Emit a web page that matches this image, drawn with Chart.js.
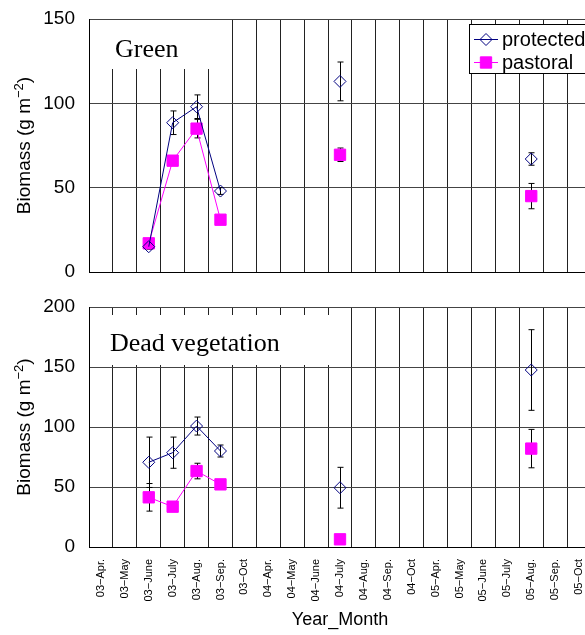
<!DOCTYPE html>
<html>
<head>
<meta charset="utf-8">
<script src="https://cdn.jsdelivr.net/npm/chart.js@4.4.0/dist/chart.umd.min.js"></script>
<style>
  body { margin: 0; width: 585px; height: 635px; overflow: hidden; background: #fff; }
  canvas { position: absolute; left: 0; }
  #green { top: 0; }
  #dead { top: 290px; }
</style>
</head>
<body>
<canvas id="green" width="600" height="290"></canvas>
<canvas id="dead" width="600" height="345"></canvas>
<script>
const months = [
  '03−Apr.', '03−May', '03−June', '03−July', '03−Aug.', '03−Sep.', '03−Oct',
  '04−Apr.', '04−May', '04−June', '04−July', '04−Aug.', '04−Sep.', '04−Oct',
  '05−Apr.', '05−May', '05−June', '05−July', '05−Aug.', '05−Sep.', '05−Oct'
];

// Green biomass
const greenProtected = [null, null, 15, 88.5, 98, 48, null, null, null, null, 113, null, null, null, null, null, null, null, 67, null, null];
const greenProtectedErr = [null, null, 1.5, 7, 7, 2, null, null, null, null, 11.5, null, null, null, null, null, null, null, 3.7, null, null];
const greenPastoral = [null, null, 17, 66, 85, 31, null, null, null, null, 69.5, null, null, null, null, null, null, null, 45, null, null];
const greenPastoralErr = [null, null, 1.5, 1.5, 5.5, 2, null, null, null, null, 4, null, null, null, null, null, null, null, 7.5, null, null];

// Dead vegetation
const deadProtected = [null, null, 70.6, 78.6, 100.8, 80, null, null, null, null, 49.4, null, null, null, null, null, null, null, 147.5, null, null];
const deadProtectedErr = [null, null, 21, 13, 7.5, 5, null, null, null, null, 17, null, null, null, null, null, null, null, 33.6, null, null];
const deadPastoral = [null, null, 41.4, 33.6, 63.3, 52.2, null, null, null, null, 6.4, null, null, null, null, null, null, null, 82, null, null];
const deadPastoralErr = [null, null, 11.5, 1.5, 6.5, 2, null, null, null, null, 1, null, null, null, null, null, null, null, 16, null, null];

const NAVY = '#000080';
const MAGENTA = '#ff00ff';
const SANS = '"Liberation Sans", Arial, sans-serif';

// white box with the panel name, covering the grid
const panelLabel = {
  id: 'panelLabel',
  beforeDatasetsDraw(chart, args, opts) {
    const ctx = chart.ctx;
    const [x0, y0, x1, y1] = opts.box;
    ctx.save();
    ctx.fillStyle = '#fff';
    ctx.fillRect(x0, y0, x1 - x0, y1 - y0);
    ctx.fillStyle = '#000';
    ctx.font = '26px "Liberation Serif", "Times New Roman", serif';
    ctx.textBaseline = 'alphabetic';
    ctx.fillText(opts.text, opts.x, opts.y);
    ctx.restore();
  }
};

// vertical error bars, drawn under the markers
const errorBars = {
  id: 'errorBars',
  beforeDatasetsDraw(chart) {
    const ctx = chart.ctx;
    const y = chart.scales.y;
    ctx.save();
    ctx.strokeStyle = '#000';
    ctx.lineWidth = 1;
    chart.data.datasets.forEach((ds, i) => {
      const meta = chart.getDatasetMeta(i);
      ds.data.forEach((v, j) => {
        const e = ds.errors[j];
        if (v == null || e == null) return;
        const x = Math.round(meta.data[j].x) + 0.5;
        const top = y.getPixelForValue(v + e);
        const bot = y.getPixelForValue(v - e);
        ctx.beginPath();
        ctx.moveTo(x, top); ctx.lineTo(x, bot);
        ctx.moveTo(x - 3, top); ctx.lineTo(x + 3, top);
        ctx.moveTo(x - 3, bot); ctx.lineTo(x + 3, bot);
        ctx.stroke();
      });
    });
    ctx.restore();
  }
};

// y title with a real superscript
const yTitle = {
  id: 'yTitle',
  afterDraw(chart) {
    const ctx = chart.ctx;
    const area = chart.chartArea;
    const big = '19px ' + SANS;
    const small = '13px ' + SANS;
    const parts = [['Biomass (g m', big, 0], ['−2', small, -7], [')', big, 0]];
    ctx.save();
    let total = 0;
    parts.forEach((p) => { ctx.font = p[1]; total += ctx.measureText(p[0]).width; });
    ctx.translate(25, (area.top + area.bottom) / 2);
    ctx.rotate(-Math.PI / 2);
    ctx.fillStyle = '#000';
    ctx.textBaseline = 'alphabetic';
    let x = -total / 2;
    parts.forEach((p) => {
      ctx.font = p[1];
      ctx.fillText(p[0], x, 5 + p[2]);
      x += ctx.measureText(p[0]).width;
    });
    ctx.restore();
  }
};

// boxed legend at the top right of the green panel
const boxLegend = {
  id: 'boxLegend',
  afterDraw(chart, args, opts) {
    if (!opts.show) return;
    const ctx = chart.ctx;
    ctx.save();
    ctx.fillStyle = '#fff';
    ctx.strokeStyle = '#000';
    ctx.lineWidth = 1;
    ctx.fillRect(469.5, 24.5, 140, 49);
    ctx.strokeRect(469.5, 24.5, 140, 49);
    const items = [
      { text: 'protected', color: NAVY, style: 'rectRot', radius: 6, fill: 'rgba(0,0,0,0)', y: 39 },
      { text: 'pastoral', color: MAGENTA, style: 'rect', radius: 8, fill: MAGENTA, y: 62 }
    ];
    items.forEach((it) => {
      ctx.strokeStyle = it.color;
      ctx.beginPath();
      ctx.moveTo(474, it.y + 0.5);
      ctx.lineTo(498, it.y + 0.5);
      ctx.stroke();
      ctx.fillStyle = it.fill;
      Chart.helpers.drawPoint(ctx, { pointStyle: it.style, radius: it.radius, borderWidth: 1, rotation: 0 }, 486, it.y + 0.5);
      ctx.fillStyle = '#000';
      ctx.font = '20px ' + SANS;
      ctx.textBaseline = 'middle';
      ctx.fillText(it.text, 502, it.y + 1);
    });
    ctx.restore();
  }
};

function makeChart(id, prot, protErr, past, pastErr, yMax, cfg) {
  return new Chart(document.getElementById(id), {
    type: 'line',
    data: {
      labels: months,
      datasets: [
        {
          label: 'protected',
          data: prot,
          errors: protErr,
          borderColor: NAVY,
          borderWidth: 1,
          pointStyle: 'rectRot',
          pointRadius: 6,
          pointBorderWidth: 1,
          pointBorderColor: NAVY,
          pointBackgroundColor: 'rgba(0,0,0,0)',
          spanGaps: false
        },
        {
          label: 'pastoral',
          data: past,
          errors: pastErr,
          borderColor: MAGENTA,
          borderWidth: 1,
          pointStyle: 'rect',
          pointRadius: 8,
          pointBorderWidth: 1,
          pointBorderColor: MAGENTA,
          pointBackgroundColor: MAGENTA,
          spanGaps: false
        }
      ]
    },
    options: {
      responsive: false,
      animation: false,
      layout: { padding: { top: cfg.padTop, right: 5, left: 0, bottom: 0 } },
      plugins: {
        legend: { display: false },
        tooltip: { enabled: false },
        panelLabel: cfg.label,
        boxLegend: { show: cfg.legend }
      },
      scales: {
        x: {
          offset: true,
          grid: { offset: true, color: '#222', lineWidth: 1, drawTicks: false },
          border: { color: '#000' },
          ticks: {
            display: cfg.xLabels,
            autoSkip: false,
            minRotation: 90,
            maxRotation: 90,
            padding: 12,
            color: '#000',
            font: { family: SANS, size: 11 }
          },
          title: {
            display: cfg.xLabels,
            text: 'Year_Month',
            color: '#000',
            font: { family: SANS, size: 18 },
            padding: { top: 0, bottom: 4 }
          },
          afterFit: (s) => {
            s.height = cfg.xHeight;
            s.paddingLeft = 0; s.paddingRight = 0;
          }
        },
        y: {
          min: 0,
          max: yMax,
          grid: { color: '#444', drawTicks: false },
          border: { color: '#000' },
          ticks: {
            stepSize: 50,
            padding: 14,
            color: '#000',
            font: { family: SANS, size: 19 }
          },
          title: { display: false },
          afterFit: (s) => {
            s.width = 89;
            s.paddingTop = 0; s.paddingBottom = 0;
          }
        }
      }
    },
    plugins: [panelLabel, errorBars, yTitle, boxLegend]
  });
}

makeChart('green', greenProtected, greenProtectedErr, greenPastoral, greenPastoralErr, 150, {
  padTop: 19,
  xHeight: 18,
  xLabels: false,
  legend: true,
  label: { text: 'Green', box: [90, 20, 225, 69], x: 115, y: 57 }
});

makeChart('dead', deadProtected, deadProtectedErr, deadPastoral, deadPastoralErr, 200, {
  padTop: 17,
  xHeight: 88,
  xLabels: true,
  legend: false,
  label: { text: 'Dead vegetation', box: [90, 25, 345, 75], x: 110, y: 61 }
});
</script>
</body>
</html>
